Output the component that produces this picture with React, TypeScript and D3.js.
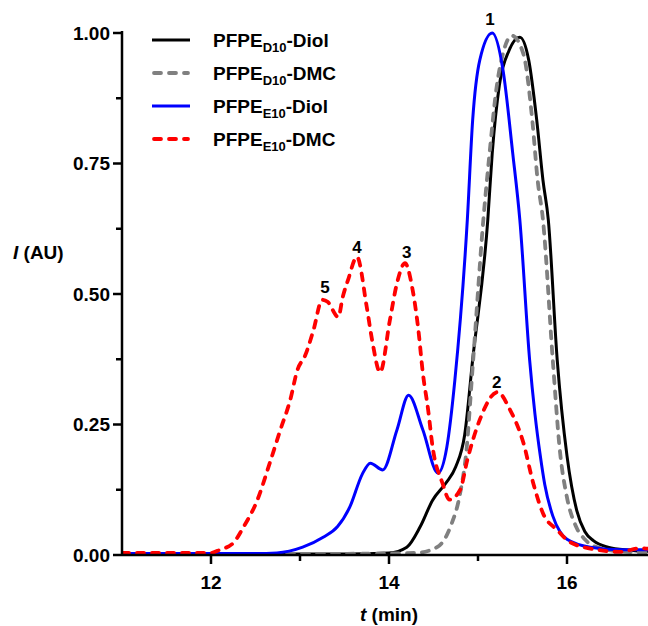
import React from "react";
import * as d3 from "d3";

// elution traces (t in min, intensity normalised)
const diolD10T = [11.0, 13.5, 14.0, 14.2, 14.35, 14.49, 14.64, 14.75, 14.85, 14.94, 15.11, 15.16, 15.24, 15.35, 15.47, 15.57, 15.66, 15.73, 15.79, 15.89, 16.0, 16.11, 16.2, 16.3, 16.46, 16.7, 17.0];
const diolD10V = [0.002, 0.002, 0.004, 0.015, 0.054, 0.105, 0.138, 0.169, 0.23, 0.374, 0.642, 0.77, 0.9, 0.967, 0.992, 0.948, 0.833, 0.718, 0.642, 0.374, 0.19, 0.085, 0.045, 0.027, 0.015, 0.009, 0.006];

const dmcD10T = [11.0, 13.0, 14.0, 14.31, 14.54, 14.69, 14.8, 14.87, 14.94, 15.06, 15.13, 15.21, 15.28, 15.38, 15.51, 15.61, 15.67, 15.73, 15.84, 15.92, 16.0, 16.1, 16.2, 16.3, 16.6, 17.0];
const dmcD10V = [0.002, 0.002, 0.003, 0.004, 0.015, 0.054, 0.119, 0.2, 0.36, 0.642, 0.77, 0.897, 0.96, 0.995, 0.96, 0.833, 0.718, 0.642, 0.374, 0.2, 0.11, 0.055, 0.03, 0.017, 0.007, 0.004];

const diolE10T = [11.0, 12.5, 12.74, 13.03, 13.26, 13.42, 13.56, 13.7, 13.79, 13.93, 14.09, 14.22, 14.38, 14.55, 14.65, 14.74, 14.88, 14.94, 15.02, 15.16, 15.28, 15.39, 15.47, 15.58, 15.64, 15.7, 15.75, 15.84, 15.92, 16.0, 16.26, 16.63, 17.0];
const diolE10V = [0.003, 0.003, 0.004, 0.015, 0.034, 0.054, 0.092, 0.155, 0.176, 0.163, 0.24, 0.306, 0.24, 0.157, 0.207, 0.335, 0.642, 0.833, 0.948, 1.0, 0.93, 0.77, 0.642, 0.374, 0.27, 0.19, 0.135, 0.075, 0.045, 0.03, 0.015, 0.01, 0.01];

const dmcE10T = [11.0, 12.0, 12.1, 12.25, 12.36, 12.52, 12.66, 12.78, 12.89, 12.97, 13.06, 13.15, 13.25, 13.31, 13.43, 13.48, 13.54, 13.64, 13.75, 13.81, 13.9, 14.01, 14.09, 14.18, 14.26, 14.33, 14.38, 14.44, 14.49, 14.6, 14.68, 14.8, 14.88, 15.02, 15.22, 15.36, 15.51, 15.62, 15.73, 15.89, 16.03, 16.34, 16.6, 16.82, 17.0];
const dmcE10V = [0.004, 0.004, 0.01, 0.023, 0.052, 0.105, 0.176, 0.24, 0.297, 0.354, 0.383, 0.43, 0.489, 0.485, 0.456, 0.494, 0.527, 0.571, 0.475, 0.412, 0.35, 0.45, 0.521, 0.559, 0.513, 0.431, 0.349, 0.278, 0.207, 0.138, 0.106, 0.125, 0.182, 0.259, 0.312, 0.278, 0.215, 0.138, 0.08, 0.048, 0.025, 0.01, 0.006, 0.013, 0.01];

const seriesNames = ["D10-Diol", "D10-DMC", "E10-Diol", "E10-DMC"];
const seriesSub = ["D10", "D10", "E10", "E10"];
const seriesEnd = ["-Diol", "-DMC", "-Diol", "-DMC"];

const xTicks = [12, 14, 16];
const xMinor = [13, 15];
const yTicks = [0, 0.25, 0.5, 0.75, 1.0];
const yMinor = [0.125, 0.375, 0.625, 0.875];

const peakLabels = ["1", "2", "3", "4", "5"];
const peakT = [15.135, 15.21, 14.2, 13.64, 13.28];
const peakV = [1.015, 0.32, 0.569, 0.579, 0.502];

const W = 648;
const H = 626;
const FONT = "'Liberation Sans', Arial, sans-serif";

export default function App() {
  const x = d3.scaleLinear().domain([11, 17]).range([122, 656]);
  const y = d3.scaleLinear().domain([0, 1]).range([555, 33]);

  const mk = (ts: number[], vs: number[]) =>
    d3
      .line<number>()
      .x((_, i) => x(ts[i]))
      .y((v) => y(v))
      .curve(d3.curveMonotoneX)(vs) || "";

  const series = [
    { d: mk(diolD10T, diolD10V), color: "#000000", dash: null },
    { d: mk(dmcD10T, dmcD10V), color: "#808080", dash: "7 8" },
    { d: mk(diolE10T, diolE10V), color: "#0000ff", dash: null },
    { d: mk(dmcE10T, dmcE10V), color: "#ff0000", dash: "7 8" },
  ];

  const ax = "#000";
  return (
    <svg
      width={W}
      height={H}
      style={{ position: "absolute", left: 0, top: 0, background: "#fff" }}
      fontFamily={FONT}
      fontWeight="bold"
    >
      <defs>
        <clipPath id="plot">
          <rect x={122} y={0} width={W - 122} height={556} />
        </clipPath>
      </defs>

      {/* curves */}
      <g clipPath="url(#plot)">
        {series.map((s, i) => (
          <path
            key={i}
            d={s.d}
            fill="none"
            stroke={s.color}
            strokeWidth={s.dash ? 3.8 : 3}
            strokeDasharray={s.dash || undefined}
            strokeLinecap={s.dash ? "round" : "butt"}
            strokeLinejoin="round"
          />
        ))}
      </g>

      {/* axes */}
      <line x1={122} x2={W} y1={555} y2={555} stroke={ax} strokeWidth={2.5} />
      <line x1={122} x2={122} y1={556} y2={31} stroke={ax} strokeWidth={2.5} />
      {xTicks.map((t) => (
        <g key={t}>
          <line x1={x(t)} x2={x(t)} y1={555} y2={564} stroke={ax} strokeWidth={2.5} />
          <text x={x(t)} y={589} fontSize={19} textAnchor="middle">
            {t}
          </text>
        </g>
      ))}
      {xMinor.map((t) => (
        <line key={t} x1={x(t)} x2={x(t)} y1={555} y2={561} stroke={ax} strokeWidth={2.5} />
      ))}
      {yTicks.map((v) => (
        <g key={v}>
          <line x1={113} x2={122} y1={y(v)} y2={y(v)} stroke={ax} strokeWidth={2.5} />
          <text x={110} y={y(v)} dy="0.36em" fontSize={19} textAnchor="end">
            {v.toFixed(2)}
          </text>
        </g>
      ))}
      {yMinor.map((v) => (
        <line key={v} x1={116} x2={122} y1={y(v)} y2={y(v)} stroke={ax} strokeWidth={2.5} />
      ))}

      {/* axis titles */}
      <text x={389} y={621} fontSize={19} textAnchor="middle">
        <tspan fontStyle="italic">t</tspan> (min)
      </text>
      <text x={13} y={259} fontSize={19}>
        <tspan fontStyle="italic">I</tspan> (AU)
      </text>

      {/* peak numbers */}
      {peakLabels.map((p, i) => (
        <text key={p} x={x(peakT[i])} y={y(peakV[i])} fontSize={17} textAnchor="middle">
          {p}
        </text>
      ))}

      {/* legend */}
      {seriesNames.map((n, i) => {
        const ly = 40 + i * 33;
        const s = series[i];
        return (
          <g key={n}>
            <line
              x1={s.dash ? 154 : 152}
              x2={s.dash ? 188 : 190}
              y1={ly}
              y2={ly}
              stroke={s.color}
              strokeWidth={s.dash ? 3.8 : 3}
              strokeDasharray={s.dash || undefined}
              strokeLinecap={s.dash ? "round" : "butt"}
            />
            <text x={213} y={ly + 7} fontSize={19}>
              PFPE
              <tspan dy={5} fontSize={13}>
                {seriesSub[i]}
              </tspan>
              <tspan dy={-5}>{seriesEnd[i]}</tspan>
            </text>
          </g>
        );
      })}
    </svg>
  );
}
